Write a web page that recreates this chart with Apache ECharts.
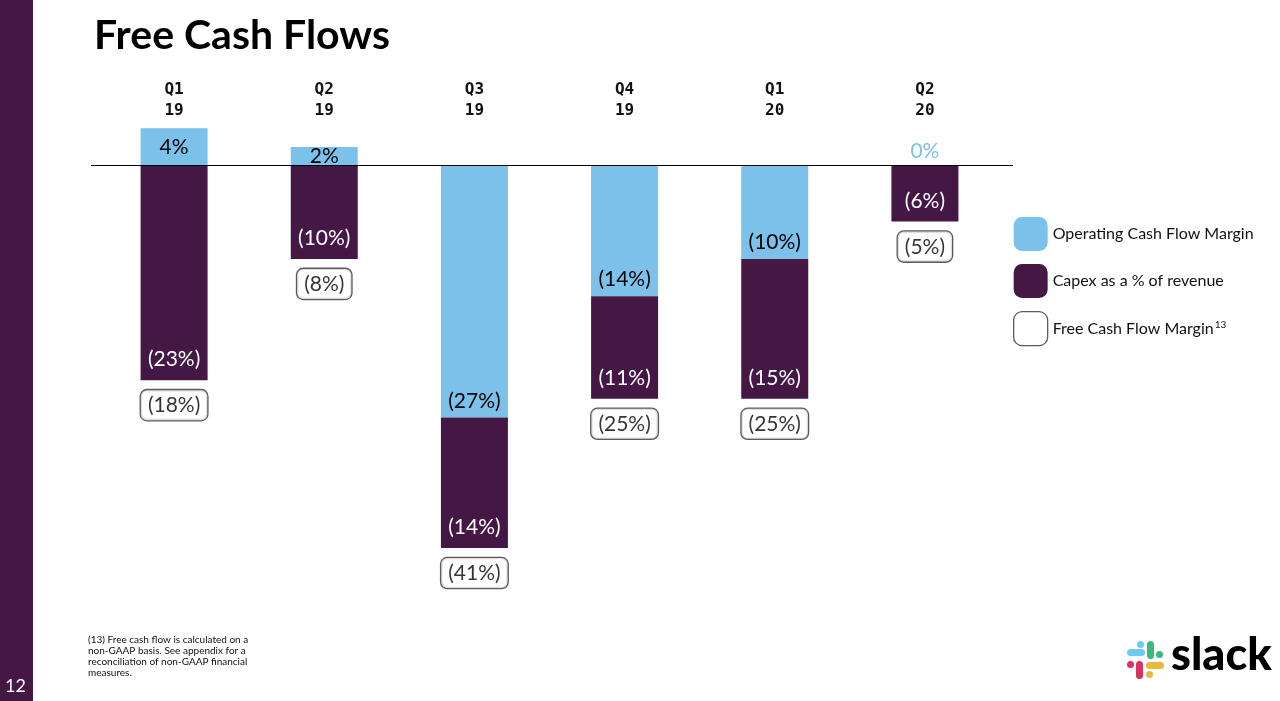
<!DOCTYPE html>
<html>
<head>
<meta charset="utf-8">
<script src="https://cdn.jsdelivr.net/npm/echarts@6/dist/echarts.min.js"></script>
<style>html,body{margin:0;padding:0;background:#fff}#c{width:1280px;height:701px}</style>
</head>
<body>
<div id="c"></div>
<script>
// ---- data ----
var categories = ['Q1\n19', 'Q2\n19', 'Q3\n19', 'Q4\n19', 'Q1\n20', 'Q2\n20'];
var operatingCashFlowMargin = [4, 2, -27, -14, -10, 0];
var capexPctRevenue = [-23, -10, -14, -11, -15, -6];
var freeCashFlowMargin = [-18, -8, -41, -25, -25, -5];
var seriesNames = ['Operating Cash Flow Margin', 'Capex as a % of revenue', 'Free Cash Flow Margin'];

var BLUE = '#7bc1e9', PURPLE = '#441745';
var FONT = 'Lato, "Open Sans", sans-serif';

function pct(v) { return v < 0 ? '(' + Math.abs(v) + '%)' : v + '%'; }

var ocfData = operatingCashFlowMargin.map(function (v) {
  return {
    value: v,
    label: {
      position: v > 0 ? 'inside' : (v < 0 ? 'insideBottom' : 'top'),
      color: v === 0 ? BLUE : '#000',
      distance: v < 0 ? 6 : 4
    }
  };
});
// bottom of each stacked column (where the FCF box hangs)
var stackBottom = capexPctRevenue.map(function (c, i) {
  return c + Math.min(operatingCashFlowMargin[i], 0);
});

var chart = echarts.init(document.getElementById('c'));
chart.setOption({
  backgroundColor: '#fff',
  animation: false,
  title: {
    text: 'Free Cash Flows',
    left: 89, top: 10,
    textStyle: { fontFamily: FONT, fontWeight: 'bold', fontSize: 41, color: '#000' }
  },
  legend: {
    orient: 'vertical',
    left: 1013, top: 217, padding: 0,
    itemWidth: 34, itemHeight: 34, itemGap: 13,
    formatter: function (name) {
      return name === seriesNames[2] ? '{n|' + name + '}{s|13}' : '{n|' + name + '}';
    },
    textStyle: {
      fontFamily: FONT, fontSize: 16, color: '#111',
      rich: {
        n: { fontFamily: FONT, fontSize: 16, color: '#111' },
        s: { fontFamily: FONT, fontSize: 10, color: '#111', padding: [0, 0, 8, 1] }
      }
    },
    data: [
      { name: seriesNames[0], icon: 'roundRect' },
      { name: seriesNames[1], icon: 'roundRect' },
      { name: seriesNames[2], icon: 'roundRect', itemStyle: { color: '#fff', borderColor: '#333', borderWidth: 1.3 } }
    ]
  },
  grid: { left: 99, right: 280, top: 119, bottom: 69 },
  xAxis: {
    type: 'category', data: categories, position: 'top',
    axisLine: { show: false }, axisTick: { show: false },
    axisLabel: {
      margin: -2, lineHeight: 21,
      fontFamily: '"DejaVu Sans Mono", monospace', fontWeight: 'bold', fontSize: 16, color: '#111'
    }
  },
  yAxis: { type: 'value', min: -50, max: 5, show: false, splitLine: { show: false } },
  series: [
    {
      name: seriesNames[0], type: 'bar', stack: 'fcf', barWidth: 67,
      itemStyle: { color: BLUE },
      label: { show: true, fontFamily: FONT, fontSize: 21, formatter: function (p) { return pct(p.value); } },
      data: ocfData
    },
    {
      name: seriesNames[1], type: 'bar', stack: 'fcf', barWidth: 67,
      itemStyle: { color: PURPLE },
      label: {
        show: true, position: 'insideBottom', distance: 10, color: '#fff',
        fontFamily: FONT, fontSize: 21, formatter: function (p) { return pct(p.value); }
      },
      data: capexPctRevenue
    },
    {
      name: seriesNames[2], type: 'scatter', symbolSize: 0,
      itemStyle: { color: '#fff', borderColor: '#333' },
      label: {
        show: true, position: 'bottom', distance: 10,
        fontFamily: FONT, fontSize: 21, color: '#000',
        backgroundColor: '#fff', borderColor: '#333', borderWidth: 1.3, borderRadius: 6,
        padding: [5, 7, 4, 7],
        formatter: function (p) { return pct(freeCashFlowMargin[p.dataIndex]); }
      },
      data: stackBottom
    }
  ],
  graphic: [
    { type: 'rect', left: 0, top: 0, shape: { width: 33, height: 701 }, style: { fill: PURPLE }, z: -1 },
    { type: 'text', left: 5, top: 677, style: { text: '12', fill: '#fff', font: '18px ' + FONT } },
    { type: 'text', left: 88, top: 634, style: {
        text: '(13) Free cash flow is calculated on a\nnon-GAAP basis. See appendix for a\nreconciliation of non-GAAP financial\nmeasures.',
        fill: '#111', font: '10px ' + FONT, lineHeight: 11 } },
    // slack logo
    { type: 'group', children: [
      { type: 'rect', shape: { x: 1127, y: 649, width: 18, height: 7, r: 3.5 }, style: { fill: '#6ccbf1' } },
      { type: 'rect', shape: { x: 1137, y: 641, width: 7, height: 7, r: 3.5 }, style: { fill: '#6ccbf1' } },
      { type: 'rect', shape: { x: 1147, y: 641, width: 7, height: 18, r: 3.5 }, style: { fill: '#3fb87f' } },
      { type: 'rect', shape: { x: 1156, y: 651, width: 7, height: 7, r: 3.5 }, style: { fill: '#3fb87f' } },
      { type: 'rect', shape: { x: 1136, y: 661, width: 7, height: 18, r: 3.5 }, style: { fill: '#d9325f' } },
      { type: 'rect', shape: { x: 1127, y: 661, width: 7, height: 7, r: 3.5 }, style: { fill: '#d9325f' } },
      { type: 'rect', shape: { x: 1146, y: 662, width: 18, height: 7, r: 3.5 }, style: { fill: '#e9b843' } },
      { type: 'rect', shape: { x: 1146, y: 671, width: 7, height: 7, r: 3.5 }, style: { fill: '#e9b843' } },
      { type: 'text', x: 1171, y: 633, style: { text: 'slack', fill: '#000', font: '900 45px ' + FONT } }
    ] }
  ]
});

// zero baseline, positioned from the value axis, extended slightly past the plot area
var y0 = chart.convertToPixel({ yAxisIndex: 0 }, 0);
chart.setOption({
  series: [{
    name: seriesNames[0],
    markLine: {
      silent: true, symbol: 'none', z: 5,
      label: { show: false },
      lineStyle: { color: '#000', width: 1, type: 'solid' },
      data: [[{ x: 91, y: y0 }, { x: 1013, y: y0 }]]
    }
  }]
});
</script>
</body>
</html>
